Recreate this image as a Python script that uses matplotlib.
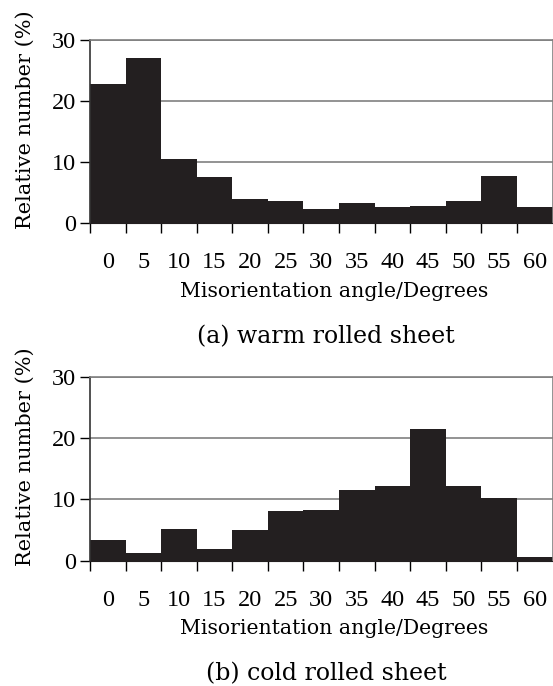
import matplotlib
matplotlib.use("Agg")
import matplotlib.pyplot as plt
import numpy as np

# misorientation angle bins (degrees) and relative number (%)
angles = [0, 5, 10, 15, 20, 25, 30, 35, 40, 45, 50, 55, 60]
warm_rolled = [22.8, 27.0, 10.5, 7.5, 4.0, 3.6, 2.3, 3.4, 2.7, 2.9, 3.6, 7.8, 2.7]
cold_rolled = [3.3, 1.2, 5.2, 1.9, 5.0, 8.1, 8.3, 11.5, 12.1, 21.4, 12.1, 10.2, 0.6]
y_ticks = [0, 10, 20, 30]
captions = ["(a) warm rolled sheet", "(b) cold rolled sheet"]

plt.rcParams['font.family'] = ['DejaVu Serif']
TICK_FONT = 'Liberation Serif'
TICK_FS = 17.5
W, H = 553, 686
fig = plt.figure(figsize=(W / 100, H / 100), dpi=100)

# axes boxes in pixels: (left, top, right, bottom)
boxes = [(90, 40, 552.5, 223.3), (90, 376.7, 552.5, 560.7)]
series = [warm_rolled, cold_rolled]

for (l, t, r, b), vals, cap in zip(boxes, series, captions):
    ax = fig.add_axes([l / W, 1 - b / H, (r - l) / W, (b - t) / H])
    ax.set_axisbelow(True)
    ax.bar(angles, vals, width=5, color='#231f20', edgecolor='none', zorder=2)
    ax.set_xlim(angles[0] - 2.5, angles[-1] + 2.5)
    ax.set_ylim(0, 30)
    ax.set_yticks(y_ticks)
    ax.set_yticklabels([str(v) for v in y_ticks], family=TICK_FONT, fontsize=TICK_FS)
    ax.yaxis.grid(True, color='#808080', linewidth=1.2)
    ax.tick_params(axis='y', length=7, width=1, pad=3)
    # tick marks at bin edges, labels at bin centres
    edges = [a - 2.5 for a in angles]
    ax.set_xticks(edges)
    ax.set_xticklabels([])
    ax.set_xticks(angles, minor=True)
    ax.set_xticklabels([str(a) for a in angles], minor=True,
                       family=TICK_FONT, fontsize=TICK_FS)
    ax.tick_params(axis='x', which='major', length=7, width=1)
    ax.tick_params(axis='x', which='minor', length=0, pad=21)
    for s in ['top', 'right']:
        ax.spines[s].set_color('#808080')
        ax.spines[s].set_linewidth(1.2)
    ax.spines['left'].set_color('#333333')
    ax.spines['bottom'].set_color('#231f20')
    ax.spines['left'].set_linewidth(1.2)

    fig.text(334 / W, 1 - (b + 68) / H, "Misorientation angle/Degrees",
             ha='center', va='center', fontsize=14.7)
    fig.text(326 / W, 1 - (b + 113) / H, cap, ha='center', va='center',
             fontsize=17)
    fig.text(25 / W, 1 - (t + 80) / H, "Relative number (%)", rotation=90,
             ha='center', va='center', fontsize=15)

fig.savefig("out.png", dpi=100)
